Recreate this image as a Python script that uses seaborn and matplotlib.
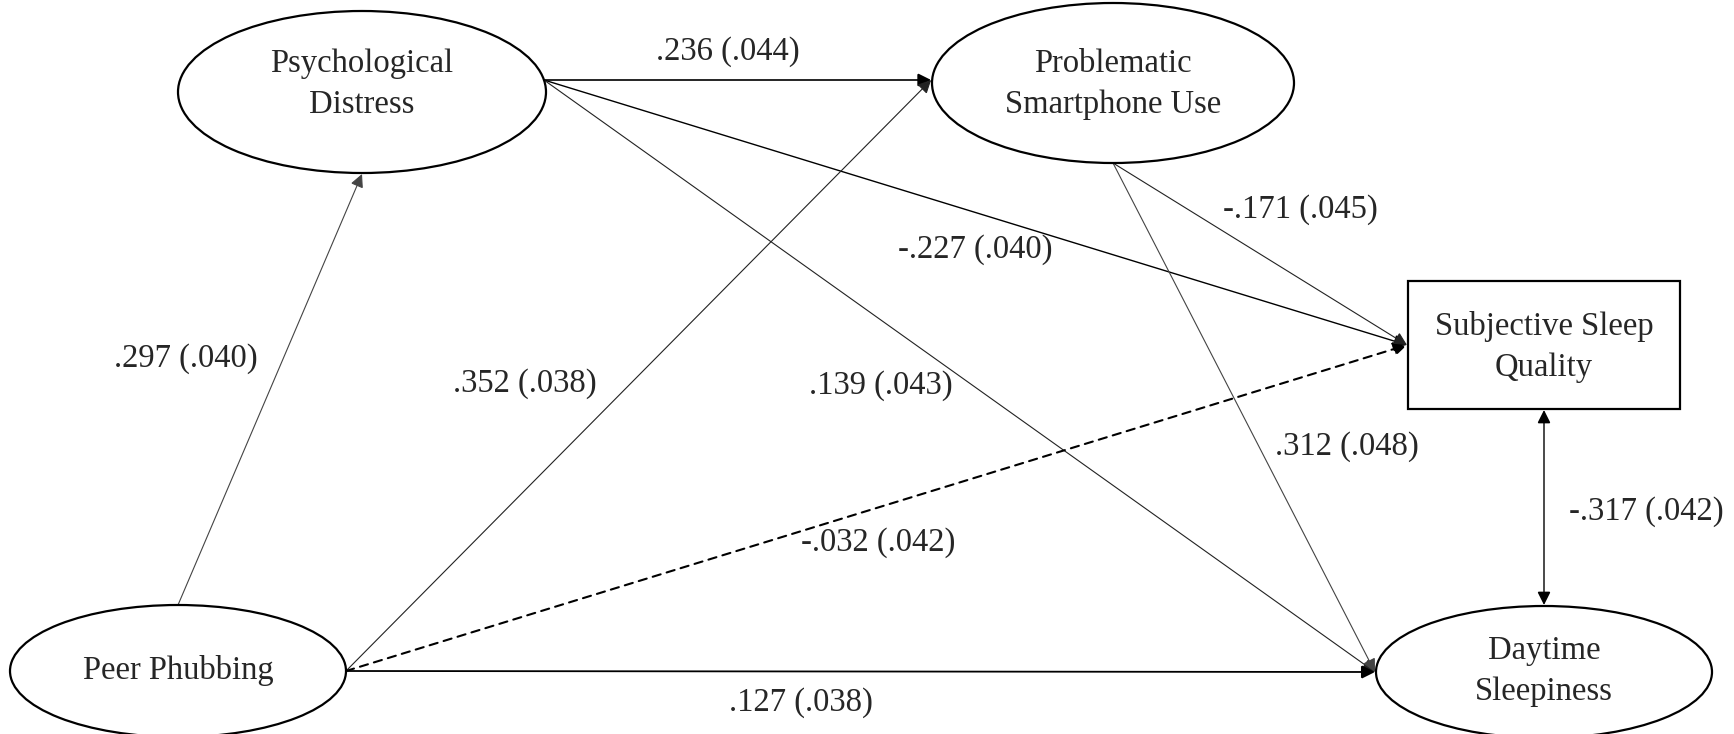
import matplotlib
matplotlib.use("Agg")
import matplotlib.pyplot as plt
from matplotlib.patches import Ellipse, Rectangle
import seaborn as sns

# ---------------- data ----------------
node_names = ["PP", "PD", "PSU", "SSQ", "DS"]
node_labels = ["Peer Phubbing", "Psychological\nDistress", "Problematic\nSmartphone Use",
               "Subjective Sleep\nQuality", "Daytime\nSleepiness"]
node_kind = ["ellipse", "ellipse", "ellipse", "box", "ellipse"]

edge_from = ["PP", "PD", "PD", "PD", "PP", "PP", "PP", "PSU", "PSU", "SSQ"]
edge_to = ["PD", "PSU", "SSQ", "DS", "PSU", "SSQ", "DS", "SSQ", "DS", "DS"]
edge_coef = [".297", ".236", "-.227", ".139", ".352", "-.032", ".127", "-.171", ".312", "-.317"]
edge_se = [".040", ".044", ".040", ".043", ".038", ".042", ".038", ".045", ".048", ".042"]
edge_sig = [True, True, True, True, True, False, True, True, True, True]
edge_both = [False] * 9 + [True]

# ---------------- layout ----------------
W, H = 1734, 734
centers = {"PP": (178, 671), "PD": (362, 92), "PSU": (1113, 83),
           "SSQ": (1544, 345), "DS": (1544, 672)}
half = {"PP": (168, 66), "PD": (184, 81), "PSU": (181, 80),
        "SSQ": (136, 64), "DS": (168, 66)}
text_dy = {"PD": -8, "PSU": 1, "SSQ": 2, "DS": -1}
# vertical offset of the side anchor (used for the right side of PD)
side_dy = {"PD": -12, "PSU": -3}
src_side = ["top", "right", "right", "right", "right", "right", "right", "bottom", "bottom", "bottom"]
dst_side = ["bottom", "left", "left", "left", "left", "left", "left", "left", "left", "top"]
label_pos = [(186, 359), (728, 52), (975, 250), (881, 386), (525, 384),
             (878, 543), (801, 703), (1300, 210), (1347, 447), (1646, 512)]
edge_lw = [0.8, 1.2, 1.0, 0.8, 0.8, 1.5, 1.3, 0.8, 0.8, 1.0]
edge_col = ["#444444", "black", "black", "#222222", "#222222", "black", "black", "#222222", "#444444", "black"]


def anchor(n, side, gap=0):
    cx, cy = centers[n]
    hw, hh = half[n]
    if side == "top":
        return (cx, cy - hh - gap)
    if side == "bottom":
        return (cx, cy + hh + gap)
    dy = side_dy.get(n, 0)
    dx = hw * (1 - (dy / hh) ** 2) ** 0.5
    if side == "left":
        return (cx - dx - gap, cy + dy)
    return (cx + dx + gap, cy + dy)


sns.set_theme(style="white")
plt.rcParams["font.family"] = ["Liberation Serif", "DejaVu Serif"]

fig = plt.figure(figsize=(W / 100, H / 100), dpi=100)
ax = fig.add_axes([0, 0, 1, 1])
ax.set_xlim(0, W)
ax.set_ylim(H, 0)
ax.axis("off")

FS = 23.5
for n, lab, kind in zip(node_names, node_labels, node_kind):
    cx, cy = centers[n]
    hw, hh = half[n]
    if kind == "ellipse":
        p = Ellipse((cx, cy), 2 * hw, 2 * hh, facecolor="white", edgecolor="black", lw=1.6, zorder=3)
    else:
        p = Rectangle((cx - hw, cy - hh), 2 * hw, 2 * hh, facecolor="white", edgecolor="black", lw=1.6, zorder=3)
    ax.add_patch(p)
    ax.text(cx, cy + text_dy.get(n, 0), lab, ha="center", va="center", fontsize=FS,
            linespacing=1.45, zorder=4)

for i in range(len(edge_from)):
    a = anchor(edge_from[i], src_side[i], 1 if edge_both[i] else 0)
    b = anchor(edge_to[i], dst_side[i], 1)
    style = "<|-|>" if edge_both[i] else "-|>"
    ls = "-" if edge_sig[i] else (0, (4, 3))
    ax.annotate("", xy=b, xytext=a, zorder=2,
                arrowprops=dict(arrowstyle=style, color=edge_col[i], lw=edge_lw[i],
                                linestyle=ls, mutation_scale=20, shrinkA=0, shrinkB=0,
                                joinstyle="miter"))
    ax.text(label_pos[i][0], label_pos[i][1], f"{edge_coef[i]} ({edge_se[i]})",
            ha="center", va="center", fontsize=FS, zorder=5)

fig.savefig("out.png", dpi=100, facecolor="white")
